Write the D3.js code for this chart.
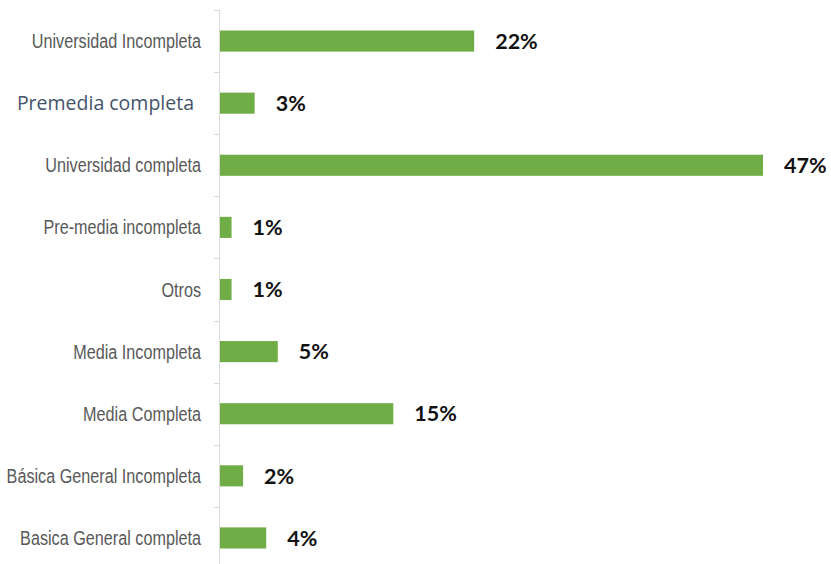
<!DOCTYPE html>
<html>
<head>
<meta charset="utf-8">
<script src="https://cdn.jsdelivr.net/npm/d3@7"></script>
<style>
  html, body { margin: 0; padding: 0; background: #fff; }
  svg { display: block; }
</style>
</head>
<body>
<svg id="chart" width="831" height="564"></svg>
<script>
// Nivel educativo alcanzado (porcentaje de respuestas)
const categories = [
  "Universidad Incompleta",
  "Premedia completa",
  "Universidad completa",
  "Pre-media incompleta",
  "Otros",
  "Media Incompleta",
  "Media Completa",
  "Básica General Incompleta",
  "Basica General completa"
];
const values = [22, 3, 47, 1, 1, 5, 15, 2, 4];
const valueLabels = ["22%", "3%", "47%", "1%", "1%", "5%", "15%", "2%", "4%"];

const svg = d3.select("#chart");
const axisX = 219;
const plotTop = 10, plotBottom = 569;
const emphasised = "Premedia completa";

const y = d3.scaleBand()
  .domain(categories)
  .range([plotTop, plotBottom])
  .paddingInner(0.66)
  .paddingOuter(0.33);

const x = d3.scaleLinear()
  .domain([0, 47])
  .range([axisX + 1, 763]);

// category axis: light vertical line with outward ticks at band boundaries
const axisG = svg.append("g");
axisG.append("line")
  .attr("x1", axisX + 0.5).attr("x2", axisX + 0.5)
  .attr("y1", plotTop).attr("y2", plotBottom)
  .attr("stroke", "#d9d9d9").attr("stroke-width", 1);

const step = y.step();
d3.range(categories.length + 1).forEach(i => {
  const ty = Math.round(plotTop + i * step) + 0.5;
  axisG.append("line")
    .attr("x1", axisX - 5).attr("x2", axisX + 0.5)
    .attr("y1", ty).attr("y2", ty)
    .attr("stroke", "#d9d9d9").attr("stroke-width", 1);
});

// bars
svg.append("g").selectAll("rect")
  .data(values)
  .join("rect")
  .attr("x", x(0))
  .attr("y", (d, i) => y(categories[i]))
  .attr("width", d => x(d) - x(0))
  .attr("height", y.bandwidth())
  .attr("fill", "#70ad47");

// category labels (condensed by a horizontal scale)
svg.append("g").selectAll("text")
  .data(categories)
  .join("text")
  .attr("transform", d => {
    const cy = y(d) + y.bandwidth() / 2;
    return d === emphasised
      ? `translate(194,${cy})`
      : `translate(201,${cy}) scale(0.81,1)`;
  })
  .attr("dy", "0.35em")
  .attr("text-anchor", "end")
  .style("font-family", d => d === emphasised
      ? "'Open Sans', sans-serif"
      : "'Liberation Sans', Arial, sans-serif")
  .style("font-size", d => d === emphasised ? "19.5px" : "20px")
  .style("fill", d => d === emphasised ? "#44546a" : "#595959")
  .text(d => d);

// value labels
svg.append("g").selectAll("text")
  .data(values)
  .join("text")
  .attr("x", d => x(d) + 21)
  .attr("y", (d, i) => y(categories[i]) + y.bandwidth() / 2)
  .attr("dy", "0.36em")
  .style("font-family", "Lato, 'Open Sans', sans-serif")
  .style("font-weight", "bold")
  .style("font-size", "21.5px")
  .style("fill", "#111")
  .text((d, i) => valueLabels[i]);
</script>
</body>
</html>
